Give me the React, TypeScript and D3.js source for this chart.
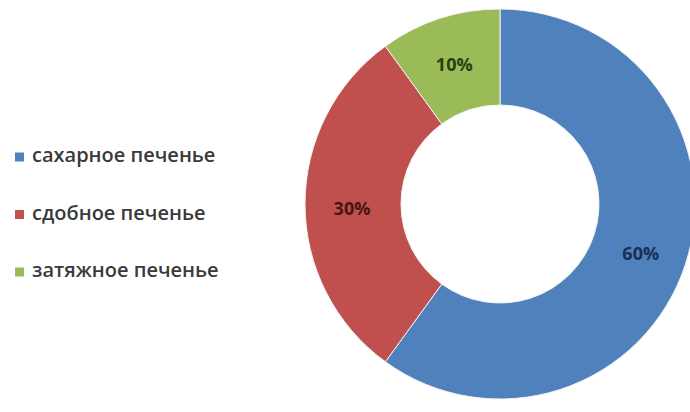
import React from "react";
import * as d3 from "d3";

const categories = ["сахарное печенье", "сдобное печенье", "затяжное печенье"];
const values = [60, 30, 10];
const labels = ["60%", "30%", "10%"];
const colors = ["#4F81BD", "#C0504D", "#9BBB59"];
const labelColors = ["#1a2f52", "#4a1416", "#2a4010"];

export default function App() {
  const width = 690;
  const height = 412;
  const cx = 500;
  const cy = 204;
  const outerR = 195;
  const innerR = 99;

  const pie = d3.pie<number>().sort(null).value((d) => d)(values);
  const arc = d3.arc<d3.PieArcDatum<number>>().innerRadius(innerR).outerRadius(outerR);
  const labelArc = d3.arc<d3.PieArcDatum<number>>().innerRadius(148).outerRadius(148);

  const legendY = d3.scalePoint<string>().domain(categories).range([157, 272]);

  return (
    <svg
      width={width}
      height={height}
      style={{ position: "absolute", left: 0, top: 0, background: "#fff" }}
    >
      <g transform={`translate(${cx},${cy})`}>
        {pie.map((p, i) => (
          <path key={i} d={arc(p) || ""} fill={colors[i]} stroke="#f3f3f3" strokeWidth={1} />
        ))}
        {pie.map((p, i) => {
          const [x, y] = labelArc.centroid(p);
          return (
            <text
              key={"l" + i}
              x={x}
              y={y + (i === 0 ? 5 : i === 1 ? 6 : 3)}
              textAnchor="middle"
              dominantBaseline="middle"
              fontFamily="'Open Sans', sans-serif"
              fontWeight={700}
              fontSize={18}
              fill={labelColors[i]}
            >
              {labels[i]}
            </text>
          );
        })}
      </g>
      {categories.map((c, i) => (
        <g key={c} transform={`translate(0,${legendY(c)})`}>
          <rect x={15} y={-4.5} width={9} height={9} fill={colors[i]} />
          <text
            x={32}
            y={0}
            dominantBaseline="middle"
            fontFamily="'Open Sans', sans-serif"
            fontWeight={600}
            fontSize={20}
            fill="#3a3a3a"
          >
            {c}
          </text>
        </g>
      ))}
    </svg>
  );
}
